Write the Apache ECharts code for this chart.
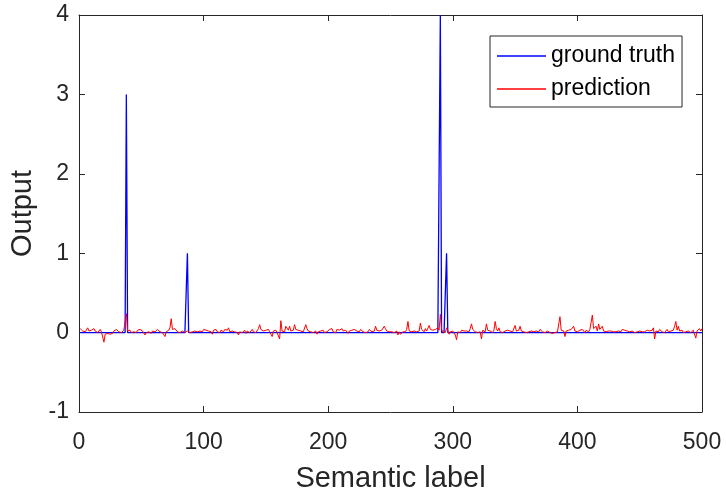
<!DOCTYPE html>
<html>
<head>
<meta charset="utf-8">
<script src="https://cdn.jsdelivr.net/npm/echarts@6/dist/echarts.min.js"></script>
<style>
html,body{margin:0;padding:0;background:#fff;}
#chart{width:726px;height:498px;}
</style>
</head>
<body>
<div id="chart"></div>
<script>
// ---- data ----
const xTicks = [0, 100, 200, 300, 400, 500];
const yTicks = [-1, 0, 1, 2, 3, 4];
const truthSpikeIdx = [38, 87, 290, 295];
const truthSpikeVal = [3, 1, 4, 1];
const prediction = [
 0.05, 0.07, 0.02, 0.04, 0.01, 0.03, 0.06, 0.02, 0.00, 0.03, 0.01, 0.05, 0.02, 0.03, 0.00, 0.02, 0.04, 0.01, 0.03, -0.12, -0.02, -0.04, -0.01, -0.03, -0.02,
 0.00, -0.01, 0.02, 0.01, 0.04, 0.03, 0.01, 0.02, 0.00, 0.01, 0.03, 0.05, 0.24, 0.02, 0.01, 0.03, 0.00, 0.02, 0.01, 0.02, 0.00, 0.03, 0.01, 0.04, 0.06,
 0.02, 0.01, -0.03, 0.00, 0.02, 0.01, 0.03, -0.01, 0.02, 0.00, 0.01, 0.02, 0.04, 0.05, 0.01, 0.02, 0.00, -0.01, -0.05, 0.01, 0.02, 0.03, 0.06, 0.175, 0.04,
 0.02, 0.05, 0.03, 0.01, 0.02, 0.00, 0.01, 0.02, 0.01, 0.00, 0.01, 0.02, 0.01, 0.00, 0.02, 0.01, 0.03, 0.02, 0.00, 0.01, -0.01, 0.02, 0.03, 0.01, 0.04,
 0.02, 0.03, 0.01, 0.02, 0.04, 0.01, -0.02, 0.03, 0.02, 0.04, 0.01, 0.02, 0.00, 0.03, 0.02, 0.01, 0.04, 0.02, 0.03, 0.06, 0.01, 0.03, 0.02, 0.04, 0.01,
 0.02, 0.00, -0.03, 0.01, 0.02, 0.00, 0.01, 0.03, -0.01, 0.02, 0.01, 0.00, 0.02, 0.04, 0.01, 0.03, 0.00, 0.02, 0.05, 0.10, 0.04, 0.06, 0.02, 0.01, 0.03,
 0.02, 0.04, 0.01, 0.00, -0.05, 0.02, 0.01, 0.03, 0.00, 0.02, -0.08, 0.15, 0.02, 0.04, 0.01, 0.08, 0.06, 0.03, 0.08, 0.02, 0.01, 0.03, 0.10, 0.04, 0.02,
 0.03, 0.01, 0.02, 0.00, 0.01, 0.03, 0.10, 0.05, 0.02, 0.03, 0.01, 0.02, 0.00, 0.01, 0.02, -0.02, 0.01, 0.00, 0.02, 0.01, 0.03, 0.00, 0.02, 0.01, 0.03,
 0.04, 0.02, 0.05, 0.01, 0.03, 0.00, 0.04, 0.02, 0.03, 0.01, 0.05, 0.02, 0.00, 0.03, 0.01, -0.01, 0.02, 0.00, 0.03, 0.01, 0.04, 0.06, 0.02, 0.03, 0.01,
 0.04, 0.02, 0.01, 0.03, 0.00, 0.02, 0.01, 0.04, 0.02, 0.01, 0.03, 0.02, 0.08, 0.03, 0.05, 0.02, 0.01, 0.03, 0.04, 0.08, 0.05, 0.02, 0.03, 0.01, 0.02,
 0.01, 0.02, 0.00, 0.01, 0.02, -0.03, 0.01, -0.02, 0.00, 0.01, 0.02, 0.01, 0.04, 0.14, 0.02, 0.03, 0.01, 0.00, 0.02, 0.04, 0.01, 0.03, 0.02, 0.12, 0.04,
 0.02, 0.01, 0.05, 0.02, 0.03, 0.09, 0.04, 0.02, 0.03, 0.01, 0.04, 0.02, 0.06, 0.03, 0.23, 0.04, 0.01, 0.02, 0.00, 0.06, 0.03, -0.02, 0.01, -0.01, 0.02,
 0.00, -0.03, -0.09, 0.01, 0.02, 0.00, 0.03, 0.01, 0.02, 0.04, 0.02, 0.00, 0.01, 0.05, 0.11, 0.04, 0.02, 0.01, 0.03, 0.00, 0.02, 0.01, -0.08, 0.03, 0.02,
 0.01, 0.11, 0.03, 0.04, 0.02, 0.01, 0.00, 0.03, 0.14, 0.05, 0.02, 0.06, 0.01, 0.02, 0.00, 0.01, 0.02, 0.00, 0.03, 0.01, 0.02, 0.00, 0.01, 0.03, 0.09,
 0.02, 0.01, 0.03, 0.08, 0.02, 0.04, 0.01, 0.03, 0.00, 0.02, 0.01, 0.03, 0.02, 0.04, 0.01, 0.00, 0.02, 0.03, 0.01, 0.04, 0.02, 0.01, 0.03, 0.00, 0.01,
 0.02, 0.01, 0.00, 0.02, -0.01, 0.01, 0.00, 0.02, 0.01, 0.03, 0.20, 0.03, 0.01, 0.02, -0.05, 0.02, 0.01, 0.03, 0.02, 0.04, 0.06, 0.08, 0.02, 0.03, 0.01,
 0.02, 0.03, 0.01, 0.04, 0.02, 0.00, 0.03, 0.02, 0.01, 0.04, 0.03, 0.22, 0.05, 0.03, 0.08, 0.02, 0.11, 0.04, 0.03, 0.08, 0.02, 0.03, 0.01, 0.00, 0.02,
 0.01, 0.02, 0.00, 0.01, 0.02, 0.01, 0.03, 0.02, 0.00, 0.01, 0.04, 0.02, 0.03, 0.01, 0.02, 0.04, 0.01, 0.00, 0.02, 0.01, 0.00, 0.02, 0.01, 0.03, 0.02,
 0.00, 0.01, 0.02, 0.01, 0.00, 0.03, 0.01, 0.02, 0.00, 0.03, 0.06, -0.08, 0.02, 0.00, 0.01, 0.04, 0.02, 0.01, 0.03, 0.00, 0.02, 0.04, 0.01, 0.03, 0.02,
 0.01, 0.03, 0.08, 0.14, 0.03, 0.08, 0.02, 0.01, 0.03, 0.00, 0.02, 0.01, 0.03, 0.02, 0.01, 0.00, 0.02, 0.03, 0.01, -0.07, 0.02, 0.01, 0.05, 0.02, 0.05
];

// ---- build series ----
const predData = prediction.map((v, i) => [i + 1, v]);
const truthData = prediction.map((v, i) => {
  const k = truthSpikeIdx.indexOf(i + 1);
  return [i + 1, k >= 0 ? truthSpikeVal[k] : 0];
});

const axisColor = '#262626';
const font = 'Liberation Sans, Arial, Helvetica, sans-serif';
const chart = echarts.init(document.getElementById('chart'), null, {renderer: 'canvas'});

const baseX = {
  type: 'value', min: xTicks[0], max: xTicks[xTicks.length - 1], interval: 100,
  splitLine: {show: false},
  axisLine: {show: true, onZero: false, lineStyle: {color: axisColor, width: 1}},
  axisTick: {show: true, inside: true, length: 6, lineStyle: {color: axisColor}},
};
const baseY = {
  type: 'value', min: yTicks[0], max: yTicks[yTicks.length - 1], interval: 1,
  splitLine: {show: false},
  axisLine: {show: true, onZero: false, lineStyle: {color: axisColor, width: 1}},
  axisTick: {show: true, inside: true, length: 6, lineStyle: {color: axisColor}},
};

chart.setOption({
  animation: false,
  backgroundColor: '#fff',
  grid: {left: 77, right: 24, top: 15, bottom: 84, containLabel: false},
  legend: {
    orient: 'vertical', left: 490, top: 36,
    backgroundColor: '#fff', borderColor: axisColor, borderWidth: 1,
    padding: [7, 7, 5, 7], itemGap: 7, itemWidth: 49, itemHeight: 1.5,
    icon: 'rect',
    textStyle: {fontSize: 23, fontFamily: font, color: '#000', lineHeight: 26},
    data: ['ground truth', 'prediction']
  },
  xAxis: [
    Object.assign({}, baseX, {
      position: 'bottom',
      name: 'Semantic label', nameLocation: 'middle', nameGap: 52,
      nameTextStyle: {fontSize: 29, fontFamily: font, color: axisColor},
      axisLabel: {fontSize: 23, fontFamily: font, color: axisColor, margin: 19}
    }),
    Object.assign({}, baseX, {position: 'top', axisLabel: {show: false}})
  ],
  yAxis: [
    Object.assign({}, baseY, {
      position: 'left',
      name: 'Output', nameLocation: 'middle', nameGap: 42, nameRotate: 90,
      nameTextStyle: {fontSize: 29, fontFamily: font, color: axisColor},
      axisLabel: {fontSize: 23, fontFamily: font, color: axisColor, margin: 10}
    }),
    Object.assign({}, baseY, {position: 'right', axisLabel: {show: false}})
  ],
  series: [
    {
      name: 'ground truth', type: 'line', data: truthData, xAxisIndex: 0, yAxisIndex: 0,
      showSymbol: false, symbol: 'none', color: '#0000ff',
      lineStyle: {color: '#0000ff', width: 1.3}, z: 2
    },
    {
      name: 'prediction', type: 'line', data: predData, xAxisIndex: 0, yAxisIndex: 0,
      showSymbol: false, symbol: 'none', color: '#ff0000',
      lineStyle: {color: '#ff0000', width: 1}, z: 3
    }
  ]
});
</script>
</body>
</html>
